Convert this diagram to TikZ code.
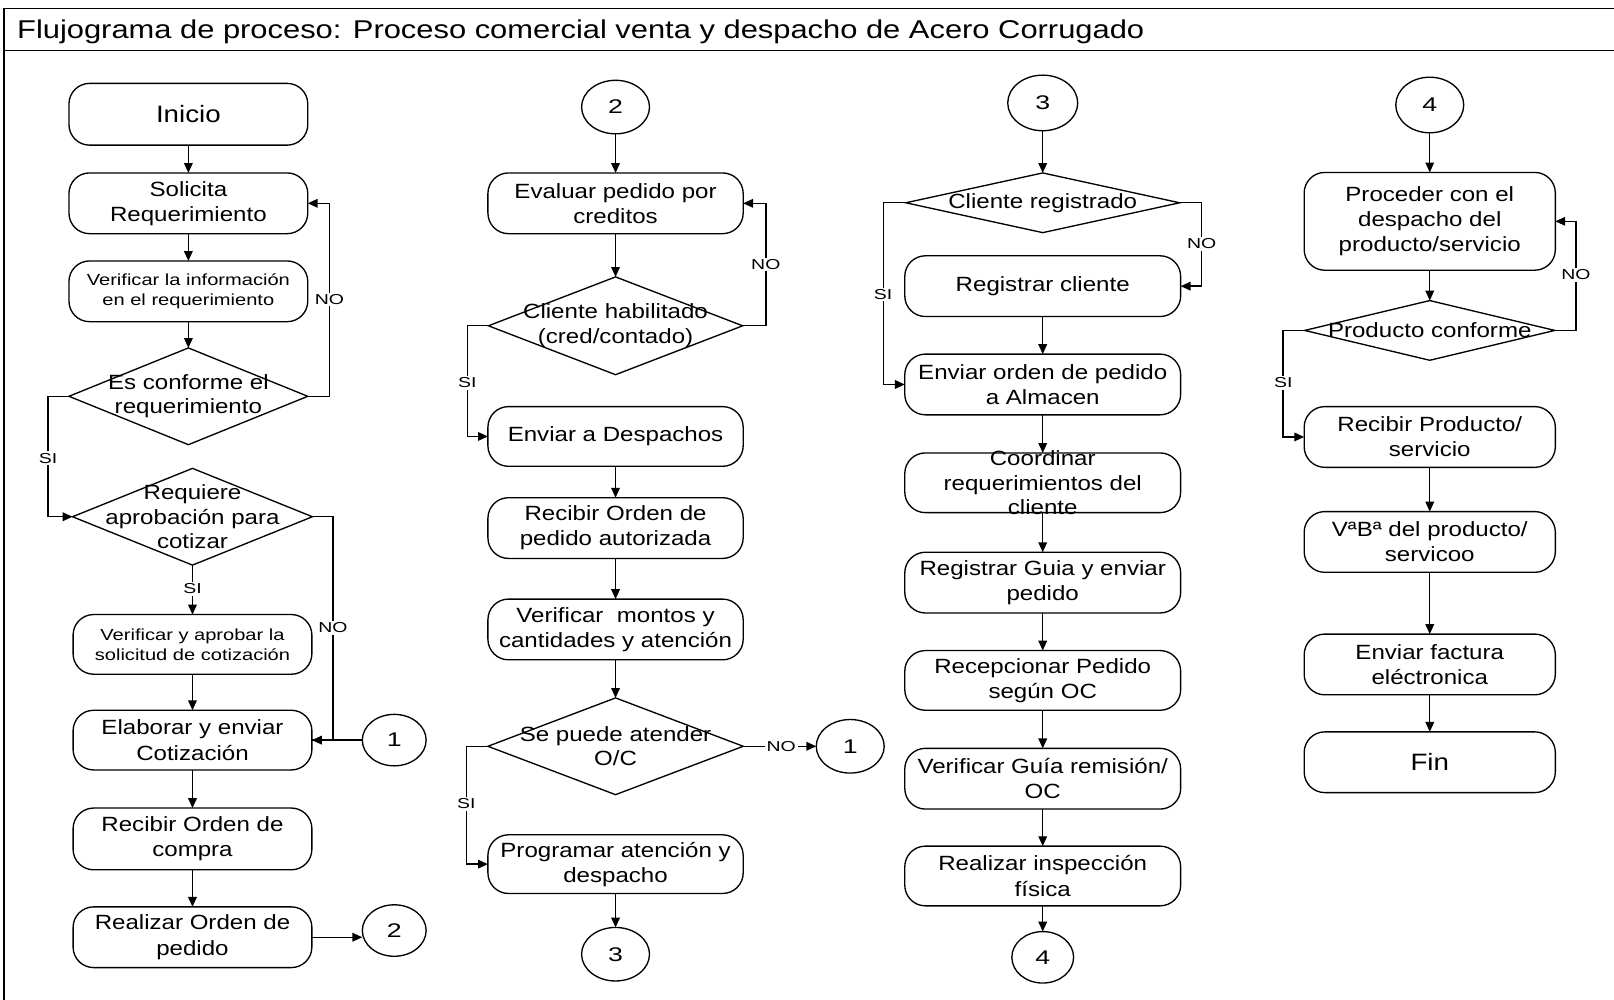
\documentclass[tikz,border=0pt]{standalone}
\usepackage{fontspec}
\setmainfont{Liberation Sans}
\newfontfamily\tfont[FakeStretch=1.2]{Liberation Sans}
\newfontfamily\bfont[FakeStretch=1.17]{Liberation Sans}
\newfontfamily\sfont[FakeStretch=1.25]{Liberation Sans}
\newfontfamily\lfont[FakeStretch=1.35]{Liberation Sans}
\usetikzlibrary{shapes.geometric,arrows.meta}
\begin{document}
\begin{tikzpicture}[x=0.5pt,y=-0.5pt, line width=0.65pt,
 arr/.style={-{Triangle[length=4.8pt,width=4.2pt]}},
 box/.style={draw, rounded corners=10pt, inner sep=1pt, outer sep=0pt, align=center, minimum height=29.5pt, font=\bfont\fontsize{10}{12.2}\selectfont},
 bA/.style={box, minimum width=116pt},
 bB/.style={box, minimum width=124pt},
 bC/.style={box, minimum width=134pt},
 bD/.style={box, minimum width=122pt},
 small/.style={font=\sfont\fontsize{7.8}{9.7}\selectfont},
 big/.style={font=\bfont\fontsize{11.5}{14}\selectfont},
 dia/.style={draw, diamond, inner sep=0pt, outer sep=0pt},
 dtext/.style={align=center, inner sep=0pt, font=\bfont\fontsize{10}{12}\selectfont},
 conn/.style={draw, ellipse, inner sep=0pt, outer sep=0pt, font=\lfont\fontsize{9.6}{10}\selectfont},
 lbl/.style={fill=white, inner sep=0.8pt, font=\lfont\fontsize{7}{8}\selectfont},
]
\useasboundingbox (0,0) rectangle (1568,971);
% frame
\draw[line width=0.7pt] (1568,8.5) -- (4,8.5) -- (4,971);
\draw[line width=0.7pt] (4,49) -- (1568,49);
\node[anchor=base west, inner sep=0pt, font=\tfont\fontsize{12.5}{14}\selectfont] (title) at (16,37) {Flujograma de proceso: Proceso comercial venta y despacho de Acero Corrugado};

% ---------- column 1
\node[bA, big, minimum height=30pt] (inicio) at (183,111) {Inicio};
\node[bA] (solic) at (183,197.5) {Solicita\\Requerimiento};
\node[bA, small] (verinf) at (183,283) {Verificar la información\\en el requerimiento};
\node[dia, minimum width=116pt, minimum height=47pt] (d1) at (183,385) {};
\node[dtext] (d1t) at (d1.center) {Es conforme el\\requerimiento};
\node[dia, minimum width=116.5pt, minimum height=47pt] (d2) at (187,502) {};
\node[dtext] (d2t) at (d2.center) {Requiere\\aprobación para\\cotizar};
\node[bA, small, minimum height=29pt] (verap) at (187,626) {Verificar y aprobar la\\solicitud de cotización};
\node[bA, minimum height=29pt] (elab) at (187,719) {Elaborar y enviar\\Cotización};
\node[bA, minimum height=30pt] (recoc) at (187,815) {Recibir Orden de\\compra};
\node[bA] (realiz) at (187,910.5) {Realizar Orden de\\pedido};
\node[conn, minimum width=31pt, minimum height=25pt] (c1a) at (383,719) {1};
\node[conn, minimum width=31pt, minimum height=25pt] (c2a) at (383,904) {2};

\draw[arr] (inicio.south) -- (solic.north);
\draw[arr] (solic.south) -- (verinf.north);
\draw[arr] (verinf.south) -- (d1.north);
\draw[arr] (d1.east) -- ++(21,0) |- (solic.east);
\draw[arr] (d1.west) -- ++(-20.4,0) |- (d2.west);
\draw[arr] (d2.south) -- (verap.north);
\draw (d2.east) -- ++(20,0) |- (elab.east);
\draw[arr] (c1a.west) -- (elab.east);
\draw[arr] (verap.south) -- (elab.north);
\draw[arr] (elab.south) -- (recoc.north);
\draw[arr] (recoc.south) -- (realiz.north);
\draw[arr] (realiz.east) -- (realiz.east -| c2a.west);

% ---------- column 2
\node[conn, minimum width=33pt, minimum height=26pt] (c2b) at (598,104) {2};
\node[bB] (evalua) at (598,197.5) {Evaluar pedido por\\creditos};
\node[dia, minimum width=123.5pt, minimum height=47.5pt] (d3) at (598,316.5) {};
\node[dtext] (d3t) at (d3.center) {Cliente habilitado\\(cred/contado)};
\node[bB, minimum height=29pt] (desp) at (598,424) {Enviar a Despachos};
\node[bB] (recop) at (598,513) {Recibir Orden de\\pedido autorizada};
\node[bB] (vermon) at (598,611.5) {Verificar\ \ montos y\\cantidades y atención};
\node[dia, minimum width=124pt, minimum height=47pt] (d4) at (598,725) {};
\node[dtext] (d4t) at (d4.center) {Se puede atender\\O/C};
\node[conn, minimum width=33pt, minimum height=26pt] (c1b) at (826,725) {1};
\node[bB, minimum height=28.5pt] (prog) at (598,839.5) {Programar atención y\\despacho};
\node[conn, minimum width=33pt, minimum height=26pt] (c3a) at (598,927) {3};

\draw[arr] (c2b.south) -- (evalua.north);
\draw[arr] (evalua.south) -- (d3.north);
\draw[arr] (d3.east) -- ++(22.5,0) |- (evalua.east);
\draw[arr] (d3.west) -- ++(-20.5,0) |- (desp.west);
\draw[arr] (desp.south) -- (recop.north);
\draw[arr] (recop.south) -- (vermon.north);
\draw[arr] (vermon.south) -- (d4.north);
\draw[arr] (d4.east) -- (c1b.west);
\draw[arr] (d4.west) -- ++(-21,0) |- (prog.west);
\draw[arr] (prog.south) -- (c3a.north);

% ---------- column 3
\node[conn, minimum width=34pt, minimum height=27pt] (c3b) at (1013,100) {3};
\node[dia, minimum width=133pt, minimum height=29pt] (d5) at (1013,197) {};
\node[dtext] (d5t) at (d5.center) {Cliente registrado};
\node[bC] (regcli) at (1013,278) {Registrar cliente};
\node[bC] (envord) at (1013,373.5) {Enviar orden de pedido\\a Almacen};
\node[bC, minimum height=29pt] (coord) at (1013,469) {};
\node[dtext] (coordt) at (coord.center) {Coordinar\\requerimientos del\\cliente};
\node[bC] (regguia) at (1013,566) {Registrar Guia y enviar\\pedido};
\node[bC, minimum height=29pt] (recep) at (1013,661) {Recepcionar Pedido\\según OC};
\node[bC] (verguia) at (1013,756.5) {Verificar Guía remisión/\\OC};
\node[bC, minimum height=29pt] (insp) at (1013,851) {Realizar inspección\\física};
\node[conn, minimum width=30pt, minimum height=25pt] (c4a) at (1013,930) {4};

\draw[arr] (c3b.south) -- (d5.north);
\draw[arr] (d5.east) -- ++(21.5,0) |- (regcli.east);
\draw[arr] (d5.west) -- ++(-22,0) |- (envord.west);
\draw[arr] (regcli.south) -- (envord.north);
\draw[arr] (envord.south) -- (coord.north);
\draw[arr] (coord.south) -- (regguia.north);
\draw[arr] (regguia.south) -- (recep.north);
\draw[arr] (recep.south) -- (verguia.north);
\draw[arr] (verguia.south) -- (insp.north);
\draw[arr] (insp.south) -- (c4a.north);

% ---------- column 4
\node[conn, minimum width=33pt, minimum height=27pt] (c4b) at (1389,102) {4};
\node[bD, minimum height=47.5pt] (proc) at (1389,215) {Proceder con el\\despacho del\\producto/servicio};
\node[dia, minimum width=121.5pt, minimum height=29pt] (d6) at (1389,321) {};
\node[dtext] (d6t) at (d6.center) {Producto conforme};
\node[bD] (recprod) at (1389,424.5) {Recibir Producto/\\servicio};
\node[bD] (vaba) at (1389,526.5) {VªBª del producto/\\servicoo};
\node[bD] (fact) at (1389,645.5) {Enviar factura\\eléctronica};
\node[bD, big] (fin) at (1389,740.5) {Fin};

\draw[arr] (c4b.south) -- (proc.north);
\draw[arr] (proc.south) -- (d6.north);
\draw[arr] (d6.east) -- ++(20.5,0) |- (proc.east);
\draw[arr] (d6.west) -- ++(-21,0) |- (recprod.west);
\draw[arr] (recprod.south) -- (vaba.north);
\draw[arr] (vaba.south) -- (fact.north);
\draw[arr] (fact.south) -- (fin.north);

% ---------- labels
\node[lbl] (l1) at (320,291) {NO};
\node[lbl] (l2) at (46.6,445) {SI};
\node[lbl] (l3) at (187,572) {SI};
\node[lbl] (l4) at (323.5,610) {NO};
\node[lbl] (l5) at (744,257) {NO};
\node[lbl] (l6) at (454,372) {SI};
\node[lbl] (l7) at (759,725) {NO};
\node[lbl] (l8) at (453,781) {SI};
\node[lbl] (l9) at (1167.5,237) {NO};
\node[lbl] (l10) at (858,286) {SI};
\node[lbl] (l11) at (1531,267) {NO};
\node[lbl] (l12) at (1246.7,372) {SI};
\end{tikzpicture}
\end{document}
